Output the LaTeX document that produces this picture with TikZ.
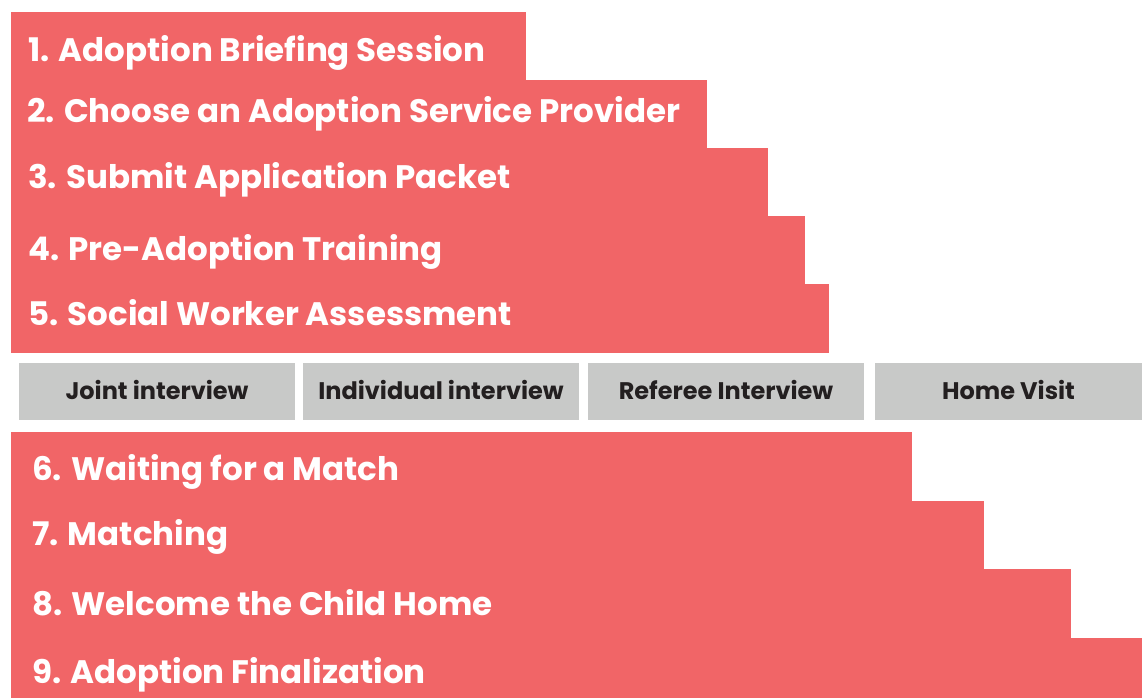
\documentclass[tikz,border=0pt]{standalone}
\usepackage{fontspec}
\setmainfont{Poppins}
\usetikzlibrary{positioning}
\definecolor{stepred}{HTML}{F16567}
\definecolor{interviewgray}{HTML}{C8C9C8}
\definecolor{interviewtext}{HTML}{231F20}

\begin{document}
\begin{tikzpicture}[x=1pt,y=-1pt]
	\tikzset{
		bar/.style={fill=stepred,draw=none,anchor=north west,inner sep=0,outer sep=0},
		bartext/.style={anchor=base west,inner sep=0,text=white,font=\fontsize{32.5}{38}\selectfont\bfseries},
		%
		interview/.style={fill=interviewgray,draw=none,anchor=north west,inner sep=0,outer sep=0,
			text=interviewtext,font=\fontsize{24}{28}\selectfont\bfseries,text height=16pt,text depth=0pt}
	}
	
	\useasboundingbox (0,0) rectangle (1142,697);
	\clip (0,0) rectangle (1142,697);
	
	% steps before the assessment
	\foreach \n/\top/\bot/\right/\base/\indent/\txt in {
		1/12/80/526/61/28/Adoption Briefing Session,
		2/80/148/707/122/27/Choose an Adoption Service Provider,
		3/148/216/768/188/28/Submit Application Packet,
		4/216/284/805/260/28/Pre-Adoption Training,
		5/284/353/829/325/28/Social Worker Assessment}{
		\node[bar,minimum width=\right-11,minimum height=\bot-\top] (bar\n) at (11,\top) {};
		\node[bartext] (step\n) at (\indent,\base) {\n. \txt};
	}
	
	% parts of the assessment
	\foreach \n/\left/\right/\txt in {1/19/295/Joint interview, 2/303/579/Individual interview, 3/588/864/Referee Interview, 4/875/1142/Home Visit}{
		\node[interview,minimum width=\right-\left,minimum height=57] (part\n) at (\left,363) {\txt};
	}
	
	% steps after the assessment
	\foreach \n/\top/\bot/\right/\base/\indent/\txt in {
		6/432/501/912/480/32/Waiting for a Match,
		7/501/569/984/545/32/Matching,
		8/569/638/1071/615/32/Welcome the Child Home,
		9/638/707/1142/683/32/Adoption Finalization}{
		\node[bar,minimum width=\right-11,minimum height=\bot-\top] (bar\n) at (11,\top) {};
		\node[bartext] (step\n) at (\indent,\base) {\n. \txt};
	}
\end{tikzpicture}
\end{document}
